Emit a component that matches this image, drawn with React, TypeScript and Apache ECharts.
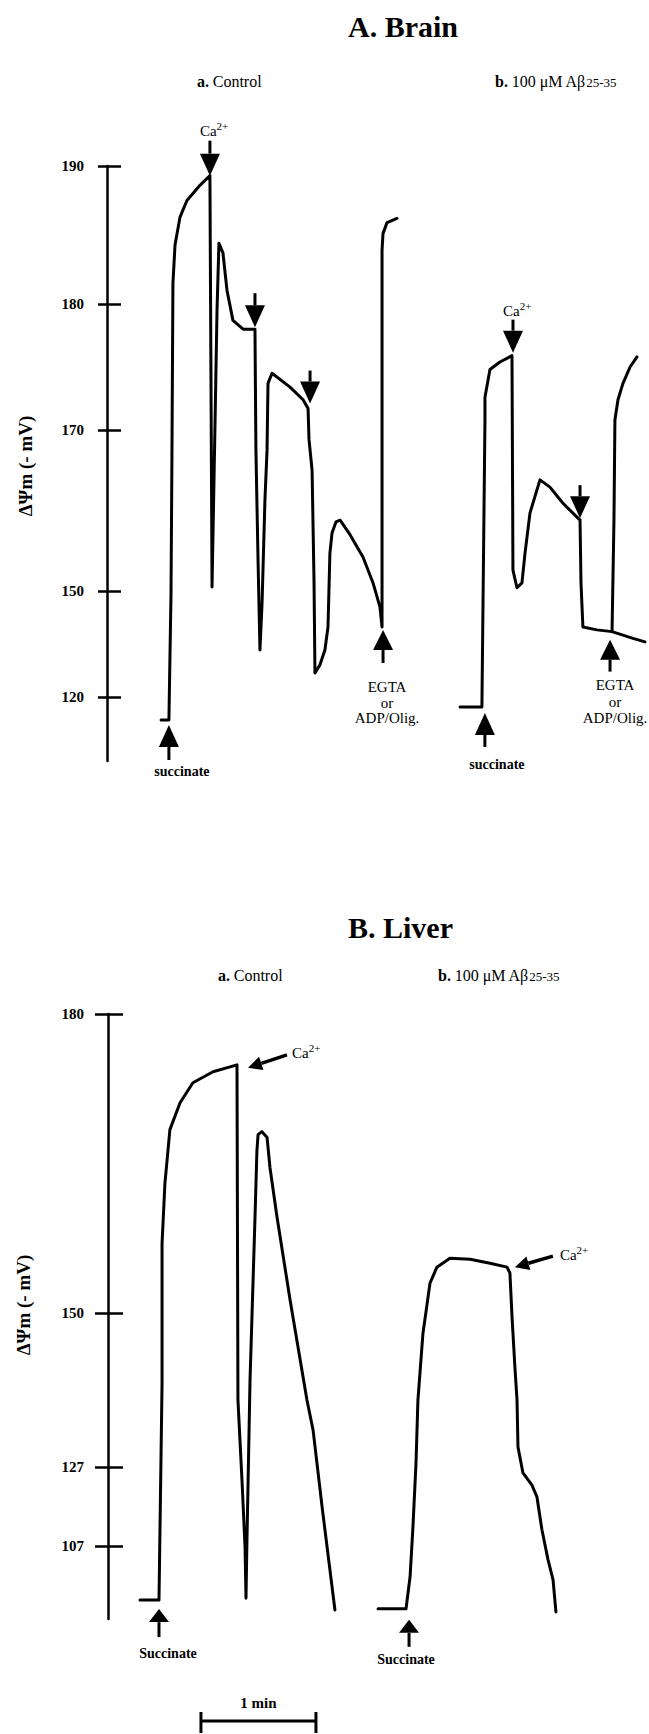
import React, { useEffect, useRef } from "react";
import * as echarts from "echarts";

// ---------- time scale ----------
const SCALE_BAR_SECONDS = 60; // "1 min" bar
const PX_PER_SEC = 115 / 60;
const X_MAX = 282;

// ---------- A. Brain ----------
const brainTickLabels = [120, 150, 170, 180, 190];
// chart-recorder calibration: axis units (non-linear) at each tick
const brainTickUnits = [64, 170, 331, 457, 595];

const brainCtrlT = [28.2, 32.3, 33.4, 33.9, 34.4, 35.5, 38.1, 41.7, 48.5, 53.7, 54.3, 54.8, 56.3, 57.4, 58.4, 60.5, 62.6, 65.7, 71.0, 77.2, 77.7, 78.8, 79.8, 80.9, 82.4, 83.5, 84.0, 86.1, 95.5, 102.3, 104.9, 105.4, 107.0, 108.0, 108.5, 111.1, 113.7, 115.3, 116.3, 117.4, 119.5, 121.6, 126.8, 133.6, 138.8, 142.4, 143.5, 143.5, 143.5, 144.0, 146.1, 151.3];
const brainCtrlMv = [113.5, 113.5, 149.4, 167.5, 181.5, 184.3, 186.3, 187.5, 188.6, 189.3, 172.4, 150.5, 170.0, 179.5, 184.4, 183.7, 181.0, 178.7, 178.0, 178.0, 167.5, 153.9, 133.3, 146.6, 161.3, 167.5, 173.7, 174.5, 173.4, 172.4, 171.7, 168.8, 165.0, 151.4, 126.8, 129.1, 133.3, 139.8, 154.7, 157.2, 158.6, 158.8, 157.0, 154.2, 151.0, 145.5, 139.8, 161.3, 183.9, 185.1, 185.9, 186.2];

const brainAbT = [184.2, 195.6, 197.2, 197.2, 199.8, 205.0, 211.3, 211.8, 213.9, 216.5, 218.1, 220.7, 225.9, 231.1, 237.9, 246.8, 247.3, 248.3, 255.6, 263.5, 264.5, 265.0, 266.6, 269.2, 272.9, 276.5];
const brainAbMv = [117.2, 117.2, 170.8, 172.6, 174.8, 175.4, 175.9, 152.6, 150.4, 151.0, 154.7, 159.7, 163.8, 162.9, 160.9, 158.8, 151.0, 139.8, 139.0, 138.5, 158.8, 170.8, 172.4, 173.7, 175.0, 175.8];
const brainAbTailT = [263.5, 269.2, 274.4, 280.7];
const brainAbTailMv = [138.5, 137.5, 136.6, 135.6];

// ---------- B. Liver ----------
const liverTickLabels = [107, 127, 150, 180];
const liverTickUnits = [73, 152, 306, 605];

const liverCtrlT = [16.7, 26.6, 28.2, 28.2, 29.7, 32.3, 37.6, 44.3, 54.8, 67.3, 67.8, 69.9, 71.5, 72.0, 72.5, 74.1, 76.7, 77.7, 78.3, 80.3, 83.0, 84.5, 88.2, 95.0, 103.8, 107.0, 111.7, 118.4];
const liverCtrlMv = [93.3, 93.3, 139.5, 157.0, 163.0, 168.4, 171.1, 173.1, 174.2, 174.9, 137.0, 123.7, 106.7, 93.8, 108.5, 140.0, 159.6, 166.3, 167.9, 168.2, 167.6, 164.6, 159.6, 151.3, 137.0, 132.5, 116.9, 90.8];

const liverAbT = [140.9, 155.5, 157.6, 159.1, 160.7, 161.7, 164.3, 168.0, 171.6, 178.4, 188.9, 199.3, 208.2, 209.7, 210.8, 212.3, 213.4, 213.9, 216.5, 221.2, 223.8, 226.4, 229.6, 232.2, 233.7];
const liverAbMv = [91.1, 91.1, 99.2, 111.8, 127.6, 137.0, 146.9, 153.0, 154.6, 155.5, 155.4, 155.0, 154.6, 154.0, 149.4, 141.9, 137.0, 130.0, 125.5, 122.4, 119.4, 111.1, 103.5, 98.4, 90.3];

const SCALE_BAR_START = 48.5;

const SERIF = "'Liberation Serif', 'Times New Roman', 'DejaVu Serif', serif";

function toUnits(v: number, labels: number[], units: number[]) {
  const n = labels.length;
  let i = 0;
  if (v <= labels[0]) i = 0;
  else if (v >= labels[n - 1]) i = n - 2;
  else {
    while (v > labels[i + 1]) i++;
  }
  const f = (v - labels[i]) / (labels[i + 1] - labels[i]);
  return units[i] + f * (units[i + 1] - units[i]);
}

function pairs(ts: number[], mv: number[], labels: number[], units: number[]) {
  return ts.map((t, i) => [t, toUnits(mv[i], labels, units)]);
}

function yAxes(gridIndex: number, labels: number[], units: number[], leftLen: number, rightLen: number, margin: number) {
  const max = units[units.length - 1];
  return [
    {
      gridIndex,
      type: "value",
      min: 0,
      max,
      position: "left",
      offset: 0,
      axisLine: { show: true, onZero: false, lineStyle: { color: "#000", width: 2.5 } },
      axisTick: { show: true, customValues: units, length: leftLen, lineStyle: { color: "#000", width: 2.5 } },
      axisLabel: {
        show: true,
        customValues: units,
        margin,
        fontFamily: SERIF,
        fontWeight: "bold",
        fontSize: 15,
        color: "#000",
        formatter: (v: number) => {
          const idx = units.findIndex((u) => Math.abs(u - v) < 0.5);
          return idx >= 0 ? String(labels[idx]) : "";
        },
      },
      splitLine: { show: false },
    },
    {
      gridIndex,
      type: "value",
      min: 0,
      max,
      position: "left",
      offset: 0,
      axisLine: { show: false, onZero: false },
      axisTick: { show: true, inside: true, customValues: units, length: rightLen, lineStyle: { color: "#000", width: 2.5 } },
      axisLabel: { show: false },
      splitLine: { show: false },
    },
  ];
}

function traceSeries(data: number[][], xAxisIndex: number, yAxisIndex: number) {
  return {
    type: "line",
    xAxisIndex,
    yAxisIndex,
    data,
    symbol: "none",
    silent: true,
    lineStyle: { color: "#000", width: 3, join: "round", cap: "round" },
  };
}

function vArrow(x: number, tipY: number, len: number, down: boolean, headH: number, hw: number) {
  const s = down ? -1 : 1;
  const baseY = tipY + s * headH;
  const tailY = tipY + s * len;
  return [
    { type: "line", silent: true, shape: { x1: x, y1: tailY, x2: x, y2: baseY }, style: { stroke: "#000", lineWidth: 3 } },
    { type: "polygon", silent: true, shape: { points: [[x - hw, baseY], [x + hw, baseY], [x, tipY]] }, style: { fill: "#000" } },
  ];
}

function dArrow(x1: number, y1: number, x2: number, y2: number, headL: number, hw: number) {
  const dx = x2 - x1, dy = y2 - y1;
  const L = Math.hypot(dx, dy);
  const ux = dx / L, uy = dy / L;
  const bx = x2 - ux * headL, by = y2 - uy * headL;
  const px = -uy, py = ux;
  return [
    { type: "line", silent: true, shape: { x1, y1, x2: bx, y2: by }, style: { stroke: "#000", lineWidth: 3.5 } },
    { type: "polygon", silent: true, shape: { points: [[bx + px * hw, by + py * hw], [bx - px * hw, by - py * hw], [x2, y2]] }, style: { fill: "#000" } },
  ];
}

function text(x: number, y: number, str: string, opts: any = {}) {
  return {
    type: "text",
    x,
    y,
    silent: true,
    rotation: opts.rotation || 0,
    style: {
      text: str,
      fontFamily: SERIF,
      fontSize: opts.fontSize || 15,
      fontWeight: opts.fontWeight || "normal",
      fill: "#000",
      align: opts.align || "center",
      verticalAlign: opts.verticalAlign || "middle",
      lineHeight: opts.lineHeight,
      rich: opts.rich,
    },
  };
}

const caRich = {
  n: { fontFamily: SERIF, fontSize: 15, fill: "#000", lineHeight: 18, verticalAlign: "bottom" },
  sup: { fontFamily: SERIF, fontSize: 11, fill: "#000", lineHeight: 8, verticalAlign: "top" },
};
const caText = "{n|Ca}{sup|2+}";

const condRich = {
  b: { fontFamily: SERIF, fontSize: 16, fontWeight: "bold", fill: "#000", lineHeight: 16, verticalAlign: "top" },
  n: { fontFamily: SERIF, fontSize: 16, fill: "#000", lineHeight: 16, verticalAlign: "top" },
  sub: { fontFamily: SERIF, fontSize: 13, fill: "#000", lineHeight: 7, verticalAlign: "bottom" },
};

export default function App() {
  const ref = useRef<HTMLDivElement>(null);

  useEffect(() => {
    if (!ref.current) return;
    const chart = echarts.init(ref.current, undefined, { renderer: "svg" });
    const gridW = X_MAX * PX_PER_SEC;

    const option: any = {
      animation: false,
      backgroundColor: "#fff",
      grid: [
        { left: 107, top: 166, width: gridW, height: 595 },
        { left: 108, top: 1014, width: gridW, height: 605 },
      ],
      xAxis: [
        { gridIndex: 0, type: "value", min: 0, max: X_MAX, show: false },
        { gridIndex: 1, type: "value", min: 0, max: X_MAX, show: false },
      ],
      yAxis: [
        ...yAxes(0, brainTickLabels, brainTickUnits, 9, 14, 23),
        ...yAxes(1, liverTickLabels, liverTickUnits, 13, 15, 24),
      ],
      series: [
        traceSeries(pairs(brainCtrlT, brainCtrlMv, brainTickLabels, brainTickUnits), 0, 0),
        traceSeries(pairs(brainAbT, brainAbMv, brainTickLabels, brainTickUnits), 0, 0),
        traceSeries(pairs(brainAbTailT, brainAbTailMv, brainTickLabels, brainTickUnits), 0, 0),
        traceSeries(pairs(liverCtrlT, liverCtrlMv, liverTickLabels, liverTickUnits), 1, 2),
        traceSeries(pairs(liverAbT, liverAbMv, liverTickLabels, liverTickUnits), 1, 2),
      ],
    };
    chart.setOption(option);

    const pB = (t: number, mv: number) =>
      chart.convertToPixel({ xAxisIndex: 0, yAxisIndex: 0 } as any, [t, toUnits(mv, brainTickLabels, brainTickUnits)]) as number[];
    const pL = (t: number, mv: number) =>
      chart.convertToPixel({ xAxisIndex: 1, yAxisIndex: 2 } as any, [t, toUnits(mv, liverTickLabels, liverTickUnits)]) as number[];

    const g: any[] = [];

    // titles
    g.push(text(348, 26, "A. Brain", { fontSize: 30, fontWeight: "bold", align: "left" }));
    g.push(text(197, 81, "{b|a.} {n|Control}", { align: "left", rich: condRich }));
    g.push(text(495, 81, "{b|b.} {n|100 μM Aβ}{sub|25-35}", { align: "left", rich: condRich }));
    g.push(text(348, 927, "B. Liver", { fontSize: 30, fontWeight: "bold", align: "left" }));
    g.push(text(218, 975, "{b|a.} {n|Control}", { align: "left", rich: condRich }));
    g.push(text(438, 975, "{b|b.} {n|100 μM Aβ}{sub|25-35}", { align: "left", rich: condRich }));

    // y-axis names
    g.push(text(25, 466, "ΔΨm (- mV)", { fontSize: 19, fontWeight: "bold", rotation: Math.PI / 2 }));
    g.push(text(23, 1305, "ΔΨm (- mV)", { fontSize: 19, fontWeight: "bold", rotation: Math.PI / 2 }));

    // ----- Brain annotations -----
    {
      const [x, y] = pB(53.7, 189.3);
      g.push(...vArrow(x, y, 35, true, 22, 10));
      g.push(text(x - 10, y - 46, caText, { align: "left", rich: caRich }));
    }
    {
      const [x, y] = pB(77.2, 178.0);
      g.push(...vArrow(x, y - 2, 34, true, 22, 10));
    }
    {
      const [x, y] = pB(104.9, 171.7);
      g.push(...vArrow(x + 2, y - 5, 33, true, 22, 10));
    }
    {
      const [x, y] = pB(32.3, 113.5);
      const tip = y + 5;
      g.push(...vArrow(x, tip, 35, false, 22, 10));
      g.push(text(x + 13, tip + 47, "succinate", { fontSize: 14, fontWeight: "bold" }));
    }
    {
      const [x0, y] = pB(143.5, 139.8);
      const x = x0 + 1;
      const tip = y + 3;
      g.push(...vArrow(x, tip, 33, false, 20, 10));
      g.push(text(x + 4, tip + 57, "EGTA", {}));
      g.push(text(x + 4, tip + 73, "or", {}));
      g.push(text(x + 4, tip + 88, "ADP/Olig.", {}));
    }
    {
      const [x0, y] = pB(211.3, 175.9);
      const x = x0 + 1;
      const tip = y - 3;
      g.push(...vArrow(x, tip, 33, true, 22, 10));
      g.push(text(x - 10, tip - 43, caText, { align: "left", rich: caRich }));
    }
    {
      const [x, y] = pB(246.8, 158.8);
      g.push(...vArrow(x, y - 2, 33, true, 22, 10));
    }
    {
      const [x0, y] = pB(195.6, 117.2);
      const x = x0 + 3;
      const tip = y + 6;
      g.push(...vArrow(x, tip, 34, false, 22, 10));
      g.push(text(x + 12, tip + 52, "succinate", { fontSize: 14, fontWeight: "bold" }));
    }
    {
      const [x0, y] = pB(263.5, 138.5);
      const x = x0 - 2;
      const tip = y + 8;
      g.push(...vArrow(x, tip, 32, false, 20, 10));
      g.push(text(x + 5, tip + 45, "EGTA", {}));
      g.push(text(x + 5, tip + 62, "or", {}));
      g.push(text(x + 5, tip + 78, "ADP/Olig.", {}));
    }

    // ----- Liver annotations -----
    {
      const [x, y] = pL(67.3, 174.9);
      g.push(...dArrow(x + 50, y - 10, x + 11, y + 3, 14, 7));
      g.push(text(x + 55, y - 13, caText, { align: "left", rich: caRich }));
    }
    {
      const [x, y] = pL(26.6, 93.3);
      const tip = y + 9;
      g.push(...vArrow(x, tip, 28, false, 13, 10));
      g.push(text(x + 9, tip + 44, "Succinate", { fontSize: 14, fontWeight: "bold" }));
    }
    {
      const [x, y] = pL(209.7, 154.0);
      g.push(...dArrow(x + 43, y - 17, x + 5, y - 6, 14, 7));
      g.push(text(x + 50, y - 20, caText, { align: "left", rich: caRich }));
    }
    {
      const [x0, y] = pL(155.5, 91.1);
      const x = x0 + 3;
      const tip = y + 11;
      g.push(...vArrow(x, tip, 27, false, 13, 10));
      g.push(text(x - 3, tip + 40, "Succinate", { fontSize: 14, fontWeight: "bold" }));
    }

    // ----- 1 min scale bar -----
    {
      const [xa] = pL(SCALE_BAR_START, 150);
      const [xb] = pL(SCALE_BAR_START + SCALE_BAR_SECONDS, 150);
      const yb = 1721;
      g.push({ type: "line", silent: true, shape: { x1: xa, y1: yb, x2: xb, y2: yb }, style: { stroke: "#000", lineWidth: 3 } });
      g.push({ type: "line", silent: true, shape: { x1: xa, y1: yb - 9, x2: xa, y2: yb + 12 }, style: { stroke: "#000", lineWidth: 3 } });
      g.push({ type: "line", silent: true, shape: { x1: xb, y1: yb - 9, x2: xb, y2: yb + 12 }, style: { stroke: "#000", lineWidth: 3 } });
      g.push(text((xa + xb) / 2, yb - 18, "1 min", { fontSize: 15, fontWeight: "bold" }));
    }

    chart.setOption({ graphic: g });

    return () => chart.dispose();
  }, []);

  return (
    <div
      ref={ref}
      style={{ position: "absolute", left: 0, top: 0, width: 649, height: 1734, background: "#fff" }}
    />
  );
}
